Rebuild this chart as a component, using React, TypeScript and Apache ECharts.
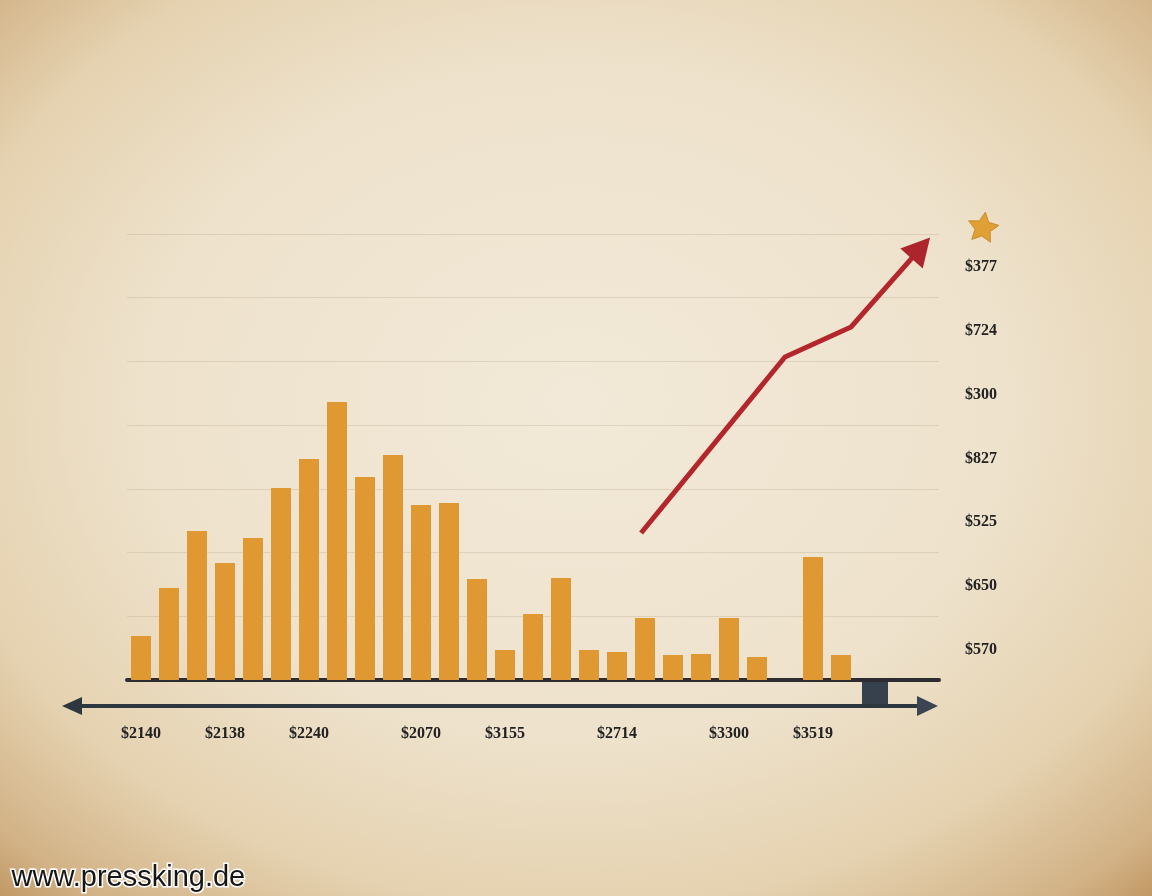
import React, { useEffect, useRef } from "react";
import * as echarts from "echarts";

// ---- data ----
const periods = [
  "P01", "P02", "P03", "P04", "P05", "P06", "P07", "P08", "P09", "P10",
  "P11", "P12", "P13", "P14", "P15", "P16", "P17", "P18", "P19", "P20",
  "P21", "P22", "P23", "P24", "P25", "P26", "P27", "P28", "P29",
];
const barValues = [
  44, 92, 149, 117, 142, 192, 221, 278, 203, 225, 175, 177, 101,
  30, 66, 102, 30, 28, 62, 25, 26, 62, 23, null, 123, 25, null, null, null,
];
const trendX = [17.86, 23, 25.36, 27.85];
const trendY = [147, 323, 353, 432];
const xTickIndex = [0, 3, 6, 10, 13, 17, 21, 24];
const xTickLabels = ["$2140", "$2138", "$2240", "$2070", "$3155", "$2714", "$3300", "$3519"];
const yTickLabels = ["$570", "$650", "$525", "$827", "$300", "$724", "$377"];

const W = 1152;
const H = 896;

function starPoints(cx: number, cy: number, ro: number, ri: number, rot: number) {
  const pts: number[][] = [];
  for (let i = 0; i < 10; i++) {
    const r = i % 2 === 0 ? ro : ri;
    const a = rot + (i * Math.PI) / 5 - Math.PI / 2;
    pts.push([cx + r * Math.cos(a), cy + r * Math.sin(a)]);
  }
  return pts;
}

export default function App() {
  const ref = useRef<HTMLDivElement>(null);

  useEffect(() => {
    if (!ref.current) return;
    const chart = echarts.init(ref.current, null, { renderer: "svg" });
    const textFont = {
      fontFamily: "Liberation Serif",
      fontWeight: "bold" as const,
      fontSize: 16,
      color: "#222222",
    };

    const option: any = {
      animation: false,
      grid: { left: 127, right: W - 939, top: 234, bottom: H - 680, containLabel: false },
      xAxis: [
        {
          type: "category",
          data: periods,
          boundaryGap: true,
          axisLine: { show: true, lineStyle: { color: "#2c2c31", width: 4 } },
          axisTick: { show: false },
          splitLine: { show: false },
          axisLabel: {
            ...textFont,
            margin: 44,
            interval: (index: number) => xTickIndex.includes(index),
            formatter: (_v: string, index: number) => {
              const k = xTickIndex.indexOf(index);
              return k >= 0 ? xTickLabels[k] : "";
            },
          },
        },
        {
          type: "value",
          min: -0.5,
          max: 28.5,
          show: false,
        },
      ],
      yAxis: [
        {
          type: "value",
          min: 0,
          max: 446,
          show: false,
          splitLine: { show: false },
        },
        {
          type: "category",
          data: yTickLabels,
          position: "right",
          boundaryGap: true,
          axisLine: { show: false },
          axisTick: { show: false },
          axisLabel: { ...textFont, margin: 26, align: "left" },
          splitLine: {
            show: true,
            lineStyle: { color: "rgba(150,128,100,0.2)", width: 1 },
          },
        },
      ],
      series: [
        {
          type: "bar",
          data: barValues,
          xAxisIndex: 0,
          yAxisIndex: 0,
          barWidth: 20,
          itemStyle: { color: "#df9832" },
          z: 3,
        },
        {
          type: "line",
          xAxisIndex: 1,
          yAxisIndex: 0,
          showSymbol: true,
          symbol: "none",
          clip: false,
          lineStyle: { color: "#b3262b", width: 5, join: "miter" },
          itemStyle: { color: "#ad252c" },
          data: trendX.map((x, i) =>
            i === trendX.length - 1
              ? { value: [x, trendY[i]], symbol: "triangle", symbolSize: [30, 28], symbolRotate: -41.5 }
              : { value: [x, trendY[i]], symbol: "none" }
          ),
          z: 4,
        },
      ],
      graphic: [
        {
          type: "rect",
          shape: { x: 0, y: 0, width: W, height: H },
          silent: true,
          z: -100,
          style: {
            fill: new echarts.graphic.RadialGradient(0.5, 0.45, 0.75, [
              { offset: 0, color: "#f2e9d8" },
              { offset: 0.5, color: "#eee2cc" },
              { offset: 0.75, color: "#e5d2b0" },
              { offset: 0.92, color: "#d2b286" },
              { offset: 1, color: "#c09560" },
            ]),
          },
        },
        // lower double-arrow axis
        {
          type: "line",
          shape: { x1: 74, y1: 706, x2: 924, y2: 706 },
          style: { stroke: "#2e3640", lineWidth: 4 },
          z: 5,
        },
        {
          type: "polygon",
          shape: { points: [[62, 706], [82, 697], [82, 715]] },
          style: { fill: "#2e3640" },
          z: 5,
        },
        {
          type: "polygon",
          shape: { points: [[938, 706], [917, 696], [917, 716]] },
          style: { fill: "#3a4452" },
          z: 5,
        },
        {
          type: "rect",
          shape: { x: 862, y: 682, width: 26, height: 22 },
          style: { fill: "#37414d" },
          z: 5,
        },
        // star
        {
          type: "polygon",
          shape: { points: starPoints(983, 228, 16, 8, 0.15) },
          style: { fill: "#e0a035", stroke: "#c98a28", lineWidth: 1 },
          z: 5,
        },
        // watermark
        {
          type: "text",
          left: 10,
          top: 860,
          style: {
            text: "www.pressking.de",
            fontFamily: "Liberation Sans",
            fontSize: 29,
            fill: "#161616",
            stroke: "#ffffff",
            lineWidth: 3,
          },
          z: 10,
        },
      ],
    };

    chart.setOption(option);
    return () => chart.dispose();
  }, []);

  return (
    <div
      ref={ref}
      style={{ position: "fixed", left: 0, top: 0, width: W, height: H }}
    />
  );
}
